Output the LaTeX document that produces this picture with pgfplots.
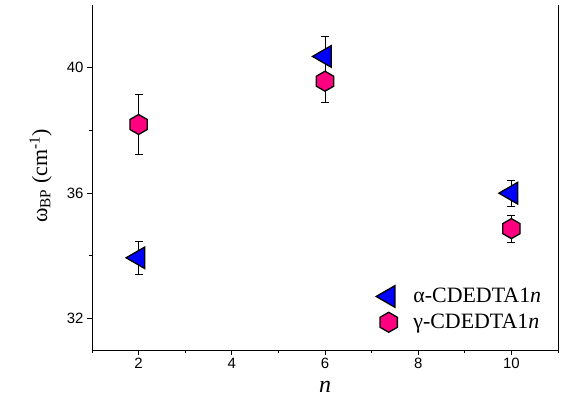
\documentclass[border=0pt]{standalone}
\usepackage{fontspec}
\setmainfont{Liberation Serif}
\setsansfont{Liberation Sans}
\usepackage{pgfplots}
\pgfplotsset{compat=1.18}

\definecolor{triblue}{RGB}{0,0,255}
\definecolor{hexpink}{RGB}{255,0,128}

% hexagon mark, pointy top
\pgfdeclareplotmark{hexagon*}{%
  \pgfpathmoveto{\pgfqpointpolar{90}{\pgfplotmarksize}}%
  \pgfpathlineto{\pgfqpointpolar{150}{\pgfplotmarksize}}%
  \pgfpathlineto{\pgfqpointpolar{210}{\pgfplotmarksize}}%
  \pgfpathlineto{\pgfqpointpolar{270}{\pgfplotmarksize}}%
  \pgfpathlineto{\pgfqpointpolar{330}{\pgfplotmarksize}}%
  \pgfpathlineto{\pgfqpointpolar{30}{\pgfplotmarksize}}%
  \pgfpathclose
  \pgfusepathqfillstroke
}

\pgfplotstableread{
x y err
2 33.94 0.52
6 40.36 0.63
10 36.00 0.42
}\alphadata

\pgfplotstableread{
x y err
2 38.19 0.95
6 39.57 0.66
10 34.87 0.43
}\gammadata

\begin{document}
\begin{tikzpicture}
\begin{axis}[
    scale only axis,
    width=466bp, height=345bp,
    xmin=1, xmax=11, ymin=31, ymax=42,
    axis x line=bottom, axis y line=box,
    axis line style={-, line width=0.9bp},
    xtick={2,4,6,8,10}, minor xtick={1,3,5,7,9,11},
    ytick={32,36,40}, minor ytick={34,38},
    ytick pos=left, xtick pos=bottom,
    tick align=outside,
    major tick length=5bp, minor tick length=3bp,
    every tick/.style={black, line width=0.9bp},
    /pgf/number format/assume math mode=true,
    ticklabel style={font=\sffamily\fontsize{15}{15}\selectfont},
    xlabel={\textit{n}},
    ylabel={ω\textsubscript{BP} (cm\textsuperscript{-1})},
    xlabel style={font=\fontsize{24}{24}\selectfont, at={(axis description cs:0.5,-0.108)}, anchor=center},
    ylabel style={font=\fontsize{22}{22}\selectfont, at={(axis description cs:-0.11,0.505)}, anchor=center},
    legend style={draw=none, fill=none, at={(0.975,0.045)}, anchor=south east,
        font=\fontsize{22}{22}\selectfont, row sep=5bp,
        /tikz/every odd column/.append style={column sep=14bp}},
    legend cell align=left,
    clip=false,
]
\addplot[only marks, mark=triangle*, mark size=12.5bp,
    mark options={rotate=90, fill=triblue, draw=black, line width=1.3bp},
    error bars/.cd, y dir=both, y explicit,
    error bar style={black, line width=0.7bp},
    error mark options={rotate=90, black, mark size=4bp, line width=0.7bp}]
    table[x=x, y=y, y error=err]{\alphadata};
\addlegendentry{α-CDEDTA1\textit{n}}
\addplot[only marks, mark=hexagon*, mark size=10bp,
    mark options={fill=hexpink, draw=black, line width=1.3bp},
    error bars/.cd, y dir=both, y explicit,
    error bar style={black, line width=0.7bp},
    error mark options={rotate=90, black, mark size=4bp, line width=0.7bp}]
    table[x=x, y=y, y error=err]{\gammadata};
\addlegendentry{γ-CDEDTA1\textit{n}}
\end{axis}
\path ([xshift=-92bp,yshift=-62bp]current axis.south west) rectangle ([xshift=11bp,yshift=5bp]current axis.north east);
\end{tikzpicture}
\end{document}
